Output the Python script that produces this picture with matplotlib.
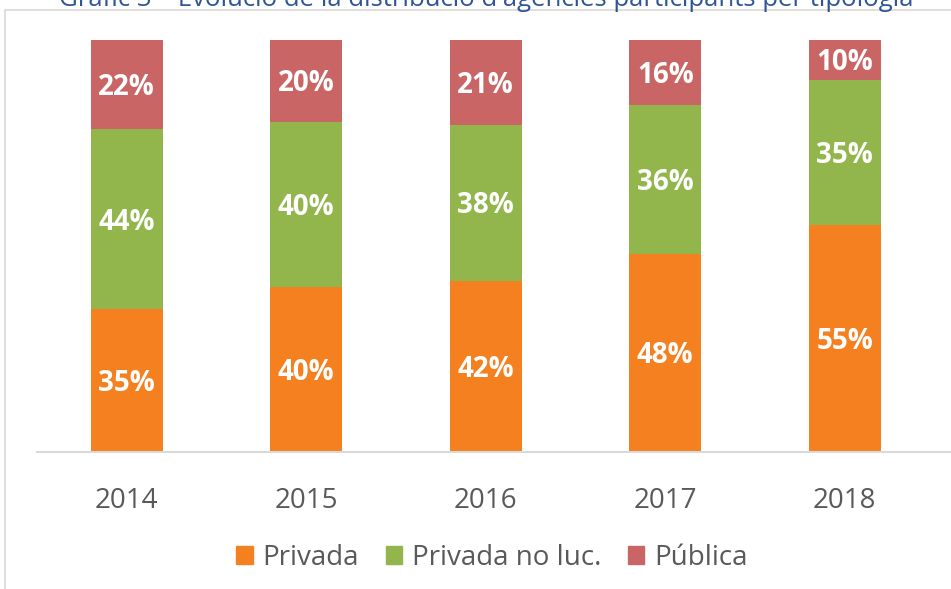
import matplotlib
matplotlib.use("Agg")
import matplotlib.pyplot as plt
from matplotlib.patches import Rectangle
import numpy as np

years = ["2014", "2015", "2016", "2017", "2018"]
privada = [34.6, 40.0, 41.6, 48.1, 55.0]
privada_no_luc = [43.8, 40.1, 37.8, 36.1, 35.4]
publica = [21.6, 19.9, 20.6, 15.8, 9.6]
series_names = ["Privada", "Privada no luc.", "Pública"]
colors = ["#F58020", "#93B64C", "#C96665"]
title = "Gràfic 3 – Evolució de la distribució d'agències participants per tipologia"

plt.rcParams['font.family'] = ['Open Sans', 'DejaVu Sans']

W, H = 951, 589
fig = plt.figure(figsize=(W / 100, H / 100), dpi=100)

# axes placement (pixels)
left_px, right_px = 37, 951
bottom_px, top_px = 452, 40
ax = fig.add_axes([left_px / W, 1 - bottom_px / H, (right_px - left_px) / W, (bottom_px - top_px) / H])

x = np.arange(len(years))
spacing = 179.5
bw = 72 / spacing
bottoms = np.zeros(len(years))
for vals, name, col in zip([privada, privada_no_luc, publica], series_names, colors):
    vals = np.array(vals)
    ax.bar(x, vals, bw, bottom=bottoms, color=col, label=name, linewidth=0)
    for xi, v, b in zip(x, vals, bottoms):
        ax.annotate(f"{int(np.floor(v + 0.5))}%", (xi, b + v / 2), xytext=(0, -3),
                    textcoords='offset pixels', ha='center', va='center',
                    color='white', fontsize=20, fontweight='bold')
    bottoms = bottoms + vals

ax.set_ylim(0, 100)
ax.set_xlim(-0.5, (right_px - left_px) / spacing - 0.5)
for s in ['top', 'right', 'left']:
    ax.spines[s].set_visible(False)
ax.spines['bottom'].set_color('#D9D9D9')
ax.spines['bottom'].set_linewidth(1.5)
ax.set_yticks([])
ax.set_xticks(x)
ax.set_xticklabels(years, fontsize=20, color='#595959')
ax.tick_params(axis='x', length=0, pad=25)

handles = [Rectangle((0, 0), 1, 1, color=c) for c in colors]
fig.legend(handles, series_names, loc='center', bbox_to_anchor=(492 / W, 1 - 558 / H),
           ncol=3, frameon=False, fontsize=20, handlelength=0.6, handleheight=0.6,
           handletextpad=0.35, columnspacing=0.95, labelcolor='#595959')

# chart border (partially visible)
fig.patches.append(Rectangle((5 / W, -0.1), 1.2, 1 - 10 / H + 0.1, transform=fig.transFigure,
                             fill=False, edgecolor='#D9D9D9', linewidth=1.2))

fig.text(486 / W, 1 - 6 / H, title, ha='center', va='baseline', fontsize=18.5, color='#2F5597')

fig.savefig("out.png", dpi=100)
